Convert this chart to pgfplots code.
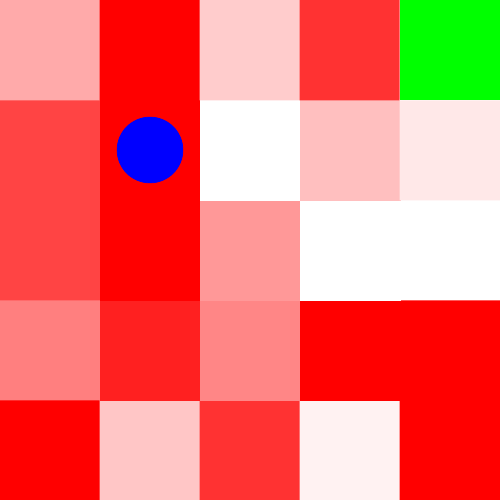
\documentclass[border=0pt]{standalone}
\usepackage{pgfplots}
\pgfplotsset{compat=1.18}
\begin{document}
\begin{tikzpicture}
\begin{axis}[
  scale only axis, width=10cm, height=10cm,
  xmin=0, xmax=5, ymin=0, ymax=5,
  hide axis,
  colormap={wr}{rgb255=(255,255,255) rgb255=(255,0,0)},
  point meta min=0, point meta max=1,
]
\addplot[matrix plot*, mesh/cols=5, point meta=explicit] table[meta=c] {
x y c
0.5 0.5 1.00
1.5 0.5 0.22
2.5 0.5 0.80
3.5 0.5 0.05
4.5 0.5 1.00
0.5 1.5 0.50
1.5 1.5 0.87
2.5 1.5 0.47
3.5 1.5 1.00
4.5 1.5 1.00
0.5 2.5 0.73
1.5 2.5 1.00
2.5 2.5 0.40
3.5 2.5 0.00
4.5 2.5 0.00
0.5 3.5 0.73
1.5 3.5 1.00
2.5 3.5 0.00
3.5 3.5 0.25
4.5 3.5 0.09
0.5 4.5 0.33
1.5 4.5 1.00
2.5 4.5 0.20
3.5 4.5 0.80
4.5 4.5 0.00
};
\addplot[fill={rgb,255:red,0;green,255;blue,0}, draw=none] coordinates {(4,4) (5,4) (5,5) (4,5)} -- cycle;
\addplot[only marks, mark=*, mark size=18.7pt, color={rgb,255:red,0;green,0;blue,255}] coordinates {(1.5,3.5)};
\end{axis}
\end{tikzpicture}
\end{document}
